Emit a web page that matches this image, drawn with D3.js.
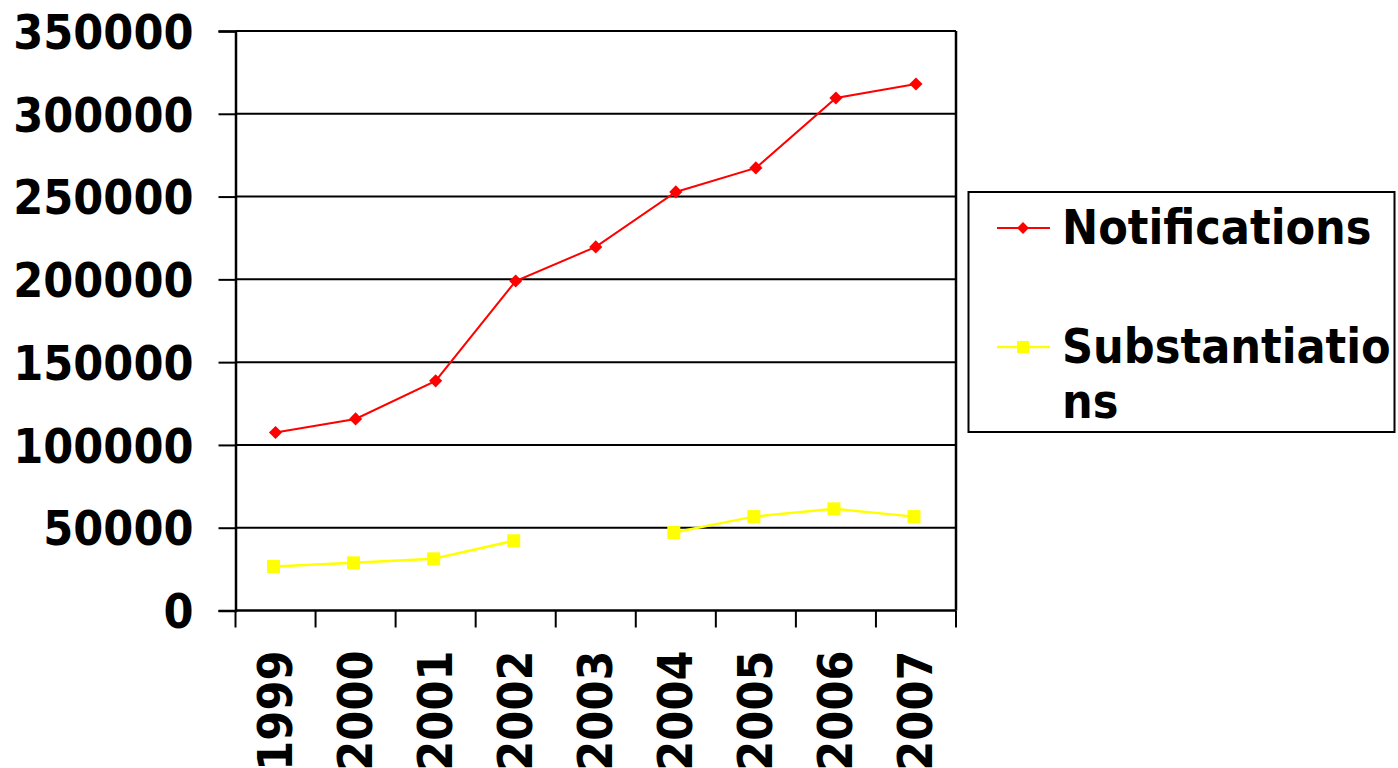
<!DOCTYPE html>
<html>
<head>
<meta charset="utf-8">
<script src="https://cdn.jsdelivr.net/npm/d3@7"></script>
<style>
  html, body { margin: 0; padding: 0; background: #fff; }
  svg { display: block; }
  .lbl { font-family: "DejaVu Sans Condensed", "DejaVu Sans", sans-serif; font-stretch: condensed; font-weight: bold; fill: #000; }
</style>
</head>
<body>
<svg id="chart" width="1398" height="768"></svg>
<script>
// Annual counts
const years = ["1999", "2000", "2001", "2002", "2003", "2004", "2005", "2006", "2007"];
const notifications = [107500, 115700, 138700, 199000, 219600, 252800, 267300, 309500, 318000];
const substantiations = [26600, 28800, 31200, 42100, null, 47100, 56700, 61400, 56700];
const yTicks = [0, 50000, 100000, 150000, 200000, 250000, 300000, 350000];
const seriesNames = ["Notifications", "Substantiations"];

const svg = d3.select("#chart");
const plot = { left: 235.5, right: 956, top: 31, bottom: 610.5 };

const x = d3.scaleBand().domain(years).range([plot.left, plot.right]);
const y = d3.scaleLinear().domain([0, 350000]).range([plot.bottom, plot.top]);

// Horizontal gridlines
svg.append("g")
  .selectAll("line")
  .data(yTicks.filter(d => d > 0))
  .join("line")
  .attr("x1", plot.left).attr("x2", plot.right)
  .attr("y1", d => y(d)).attr("y2", d => y(d))
  .attr("stroke", "#000").attr("stroke-width", 2);

// Right border of plot area
svg.append("line")
  .attr("x1", plot.right).attr("x2", plot.right)
  .attr("y1", plot.top).attr("y2", plot.bottom)
  .attr("stroke", "#000").attr("stroke-width", 2.5);

// Y axis
const yAxis = svg.append("g")
  .attr("transform", `translate(${plot.left},0)`)
  .call(d3.axisLeft(y).tickValues(yTicks).tickSize(17).tickPadding(25).tickFormat(d3.format("d")));
yAxis.select(".domain").attr("stroke", "#000").attr("stroke-width", 2.5);
yAxis.selectAll(".tick line").attr("stroke", "#000").attr("stroke-width", 2);
yAxis.selectAll(".tick text").attr("class", "lbl").attr("font-size", 48).attr("dy", "0.36em");

// X axis: ticks at category boundaries
const xAxis = svg.append("g")
  .attr("transform", `translate(0,${plot.bottom})`);
xAxis.append("line")
  .attr("x1", plot.left).attr("x2", plot.right)
  .attr("stroke", "#000").attr("stroke-width", 2.5);
const boundaries = years.map(d => x(d)).concat([x(years[years.length - 1]) + x.bandwidth()]);
xAxis.selectAll("line.tk")
  .data(boundaries)
  .join("line")
  .attr("class", "tk")
  .attr("x1", d => d).attr("x2", d => d)
  .attr("y1", 0).attr("y2", 17)
  .attr("stroke", "#000").attr("stroke-width", 2);
xAxis.selectAll("text")
  .data(years)
  .join("text")
  .attr("class", "lbl")
  .attr("font-size", 48)
  .attr("text-anchor", "end")
  .attr("dy", "0.36em")
  .attr("transform", d => `translate(${x(d) + x.bandwidth() / 2 - 1},40) rotate(-90)`)
  .text(d => d);

const cx = d => x(d) + x.bandwidth() / 2;

// Notifications line
const redData = years.map((d, i) => ({ year: d, v: notifications[i] }));
svg.append("path")
  .datum(redData)
  .attr("fill", "none").attr("stroke", "#ff0000").attr("stroke-width", 2)
  .attr("d", d3.line().x(d => cx(d.year)).y(d => y(d.v)));
svg.append("g").selectAll("path")
  .data(redData)
  .join("path")
  .attr("transform", d => `translate(${cx(d.year)},${y(d.v)})`)
  .attr("d", d3.symbol(d3.symbolDiamond2, 110))
  .attr("fill", "#ff0000");

// Substantiations line (gap where no value)
const yelData = years.map((d, i) => ({ year: d, v: substantiations[i] }));
svg.append("path")
  .datum(yelData)
  .attr("fill", "none").attr("stroke", "#ffff00").attr("stroke-width", 2.5)
  .attr("d", d3.line().defined(d => d.v != null).x(d => cx(d.year) - 2).y(d => y(d.v)));
svg.append("g").selectAll("rect")
  .data(yelData.filter(d => d.v != null))
  .join("rect")
  .attr("x", d => cx(d.year) - 2 - 6.5).attr("y", d => y(d.v) - 6.5)
  .attr("width", 13).attr("height", 13)
  .attr("fill", "#ffff00");

// Legend
const legend = svg.append("g");
legend.append("rect")
  .attr("x", 968.5).attr("y", 192).attr("width", 426).attr("height", 240)
  .attr("fill", "#fff").attr("stroke", "#000").attr("stroke-width", 2);

const lg1 = legend.append("g").attr("transform", "translate(0,228)");
lg1.append("line").attr("x1", 997).attr("x2", 1050).attr("stroke", "#ff0000").attr("stroke-width", 2);
lg1.append("path").attr("transform", "translate(1023,0)").attr("d", d3.symbol(d3.symbolDiamond2, 90)).attr("fill", "#ff0000");
lg1.append("text").attr("class", "lbl").attr("font-size", 48).attr("x", 1062).attr("y", 15.5).text(seriesNames[0]);

const lg2 = legend.append("g").attr("transform", "translate(0,347)");
lg2.append("line").attr("x1", 997).attr("x2", 1050).attr("stroke", "#ffff00").attr("stroke-width", 2.5);
lg2.append("rect").attr("x", 1017).attr("y", -6).attr("width", 12).attr("height", 12).attr("fill", "#ffff00");
const t2 = lg2.append("text").attr("class", "lbl").attr("font-size", 48).attr("x", 1062).attr("y", 16);
t2.append("tspan").attr("x", 1062).text(seriesNames[1].slice(0, 13));
t2.append("tspan").attr("x", 1062).attr("dy", 55).text(seriesNames[1].slice(13));
</script>
</body>
</html>
